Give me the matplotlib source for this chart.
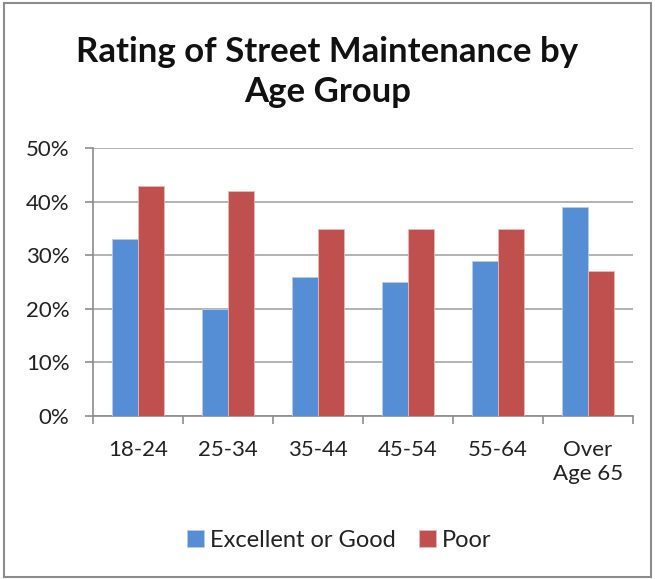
import numpy as np
import matplotlib.pyplot as plt
from matplotlib.patches import Rectangle

plt.rcParams['font.family'] = ['Lato', 'DejaVu Sans']

# data
groups = ['18-24', '25-34', '35-44', '45-54', '55-64', 'Over\nAge 65']
good = [33, 20, 26, 25, 29, 39]
poor = [43, 42, 35, 35, 35, 27]

blue = '#558ED5'
red = '#C0504D'
grid = '#A6A6A6'

fig = plt.figure(figsize=(6.55, 5.79), dpi=100)
ax = fig.add_axes([0.142, 0.2815, 0.824, 0.4625])

x = np.arange(len(groups))
w = 0.289
ax.bar(x - w/2, good, w, color=blue, edgecolor='#B8CCE4', linewidth=0.6, label='Excellent or Good', zorder=3)
ax.bar(x + w/2, poor, w, color=red, edgecolor='#E6B9B8', linewidth=0.6, label='Poor', zorder=3)

ax.set_xlim(-0.5, len(groups) - 0.5)
ax.set_ylim(0, 50)
ax.set_yticks(np.arange(0, 51, 10))
ax.set_yticklabels([str(v) + '%' for v in range(0, 51, 10)], fontsize=16, color='#222222')
ax.yaxis.grid(True, color=grid, linewidth=1.2, zorder=0)

# category labels centred, tick marks on the boundaries
ax.set_xticks(x)
ax.set_xticklabels(groups, fontsize=16, linespacing=1.25, color='#222222')
ax.tick_params(axis='x', length=0, pad=17)
ax.set_xticks(np.arange(-0.5, len(groups)), minor=True)
ax.tick_params(axis='x', which='minor', length=6, color='#8C8C8C', width=1.2)
ax.tick_params(axis='y', length=6, color='#8C8C8C', width=1.2, pad=11)

for s in ['top', 'right']:
    ax.spines[s].set_visible(False)
for s in ['left', 'bottom']:
    ax.spines[s].set_color('#8C8C8C')
    ax.spines[s].set_linewidth(1.2)

fig.text(0.5, 0.876, 'Rating of Street Maintenance by\nAge Group', ha='center', va='center',
         fontsize=25, fontweight='bold', linespacing=1.3, color='#111111')

fig.legend(loc='center', bbox_to_anchor=(0.518, 0.067), ncol=2, frameon=False, fontsize=17,
           handlelength=0.7, handleheight=0.7, handletextpad=0.25, columnspacing=1.0,
           labelcolor='#222222')

fig.patches.append(Rectangle((0.006, 0.004), 0.988, 0.99, transform=fig.transFigure,
                             fill=False, edgecolor='#8C8C8C', linewidth=1.5))

fig.savefig('out.png', dpi=100)
